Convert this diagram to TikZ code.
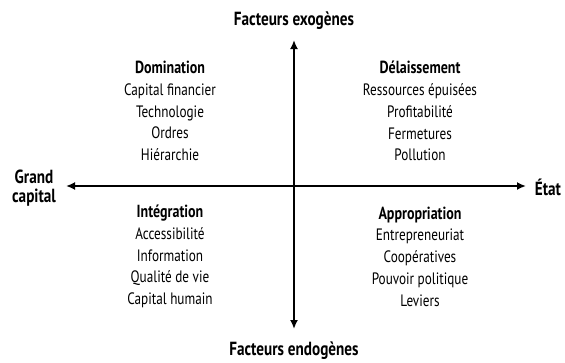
\documentclass[tikz,border=0pt]{standalone}
\usepackage{fontspec}
\setmainfont[FakeStretch=0.8]{PT Sans}
\usetikzlibrary{arrows.meta}
\newcommand{\hd}[1]{{\fontsize{17.5}{21.8}\selectfont\bfseries #1}}
\begin{document}
\begin{tikzpicture}[x=1pt,y=-1pt,
  axis/.style={line width=1.8pt,{Latex[length=9pt,width=8pt]}-{Latex[length=9pt,width=8pt]}},
  lbl/.style={font=\fontsize{19}{19}\selectfont\bfseries,inner sep=0pt,align=center},
  quad/.style={font=\fontsize{16.5}{21.8}\selectfont,inner sep=0pt,align=center}]
\useasboundingbox (0,0) rectangle (565,362);
\node[lbl] (top) at (294,21) {Facteurs exogènes};
\node[lbl] (bot) at (294,351) {Facteurs endogènes};
\node[lbl] (left) at (34,188) {Grand\\capital};
\node[lbl] (right) at (548,187) {État};
\coordinate (vt) at (294,40);
\coordinate (vb) at (294,329);
\coordinate (hl) at (66,186);
\coordinate (hr) at (526,186);
\draw[axis] (vt) -- (vb);
\draw[axis] (hl) -- (hr);
\node[quad] (q1) at (170,111) {\hd{Domination}\\Capital financier\\Technologie\\Ordres\\Hiérarchie};
\node[quad] (q2) at (420,111) {\hd{Délaissement}\\Ressources épuisées\\Profitabilité\\Fermetures\\Pollution};
\node[quad] (q3) at (170,256.5) {\hd{Intégration}\\Accessibilité\\Information\\Qualité de vie\\Capital humain};
\node[quad] (q4) at (420,256.5) {\hd{Appropriation}\\Entrepreneuriat\\Coopératives\\Pouvoir politique\\Leviers};
\end{tikzpicture}
\end{document}
